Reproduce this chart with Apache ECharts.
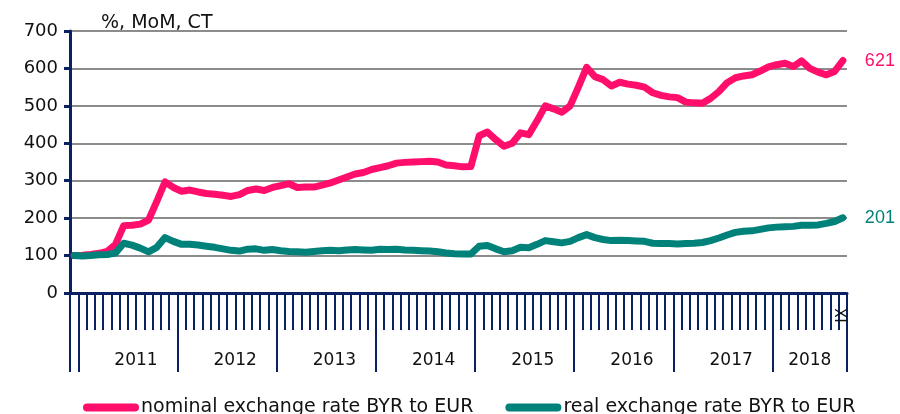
<!DOCTYPE html>
<html>
<head>
<meta charset="utf-8">
<script src="https://cdn.jsdelivr.net/npm/echarts@6/dist/echarts.min.js"></script>
<style>
  html, body { margin: 0; padding: 0; background: #fff; }
  #chart { width: 900px; height: 414px; }
</style>
</head>
<body>
<div id="chart"></div>
<script>
// months: XII 2010 (base = 100) .. IX 2018
const romans = ["I", "II", "III", "IV", "V", "VI", "VII", "VIII", "IX", "X", "XI", "XII"];
const years = ["2011", "2012", "2013", "2014", "2015", "2016", "2017", "2018"];
const lastYearMonths = 9;

const nominal = [
  100,
  101, 103, 106, 111, 130, 180, 181, 184, 195, 245, 297, 282,
  272, 275, 270, 266, 264, 261, 258, 263, 274, 278, 274, 282,
  287, 292, 282, 283, 283, 288, 294, 302, 310, 318, 322, 330,
  335, 340, 347, 349, 350, 351, 352, 350, 342, 340, 337, 338,
  420, 430, 410, 392, 400, 428, 423, 460, 500, 492, 483, 500,
  550, 603, 578, 570, 553, 563, 558, 555, 550, 535, 528, 524,
  522, 510, 508, 507, 520, 538, 562, 575, 580, 583, 593, 604,
  610, 614, 605, 620, 600, 590, 583, 592, 621
];
const real = [
  100,
  99, 100, 102, 103, 107, 133, 128, 120, 110, 122, 148, 138,
  130, 130, 128, 125, 122, 118, 114, 112, 117, 118, 114, 116,
  113, 111, 110, 109, 111, 113, 114, 113, 115, 116, 115, 114,
  117, 116, 117, 115, 114, 113, 112, 110, 107, 105, 104, 104,
  125, 127, 118, 110, 113, 122, 121, 130, 140, 137, 134, 138,
  148, 156, 148, 143, 140, 141, 140, 139, 138, 133, 132, 132,
  131, 132, 133, 135, 140, 147, 155, 162, 165, 166, 170, 174,
  176, 177, 178, 181, 181, 182, 186, 191, 201
];

const categories = ["XII 2010"];
years.forEach((y, k) => {
  const n = k === years.length - 1 ? lastYearMonths : 12;
  for (let m = 0; m < n; m++) categories.push(romans[m] + " " + y);
});

const navy = "#0b1f63";
const pink = "#ff0f6b";
const teal = "#00827a";
const font = "DejaVu Sans";
const last = categories.length - 1;

// year label sits in the middle of its block of months
const yearLabelIndex = {};
years.forEach((y, k) => {
  const start = 1 + k * 12;
  const n = k === years.length - 1 ? lastYearMonths : 12;
  yearLabelIndex[start + Math.floor(n / 2)] = { year: y, even: n % 2 === 0 };
});

const chart = echarts.init(document.getElementById("chart"));
chart.setOption({
  backgroundColor: "#fff",
  animation: false,
  title: {
    text: "%, MoM, CT",
    left: 96,
    top: 9,
    textStyle: { fontFamily: font, fontSize: 19, fontWeight: "normal", color: "#111" },
  },
  legend: {
    left: 78,
    top: 393,
    itemGap: 32,
    itemWidth: 56,
    itemHeight: 8,
    icon: "path://M4,0 H52 A4,4 0 0 1 52,8 H4 A4,4 0 0 1 4,0 Z",
    textStyle: { fontFamily: font, fontSize: 19, color: "#111", padding: [0, 0, 0, -3] },
    data: ["nominal exchange rate BYR to EUR", "real exchange rate BYR to EUR"],
  },
  grid: { left: 70, right: 53, top: 31, bottom: 121 },
  xAxis: [
    {
      type: "category",
      position: "bottom",
      data: categories,
      boundaryGap: true,
      axisLine: { show: true, lineStyle: { color: navy, width: 3 } },
      axisTick: { show: true, interval: 0, length: 37, lineStyle: { color: navy, width: 2 } },
      axisLabel: {
        interval: (i) => i === last,
        formatter: () => romans[lastYearMonths - 1],
        rotate: 90,
        margin: 15,
        fontFamily: font,
        fontSize: 15,
        color: "#111",
      },
      z: 4,
    },
    {
      type: "category",
      position: "bottom",
      offset: 0,
      data: categories,
      boundaryGap: true,
      axisLine: { show: false },
      axisTick: {
        show: true,
        interval: (i) => i === 0 || (i - 1) % 12 === 0,
        length: 79,
        lineStyle: { color: navy, width: 2 },
      },
      axisLabel: {
        show: true,
        interval: (i) => yearLabelIndex[i] !== undefined,
        formatter: (v, i) => {
          const item = yearLabelIndex[i];
          return item.even ? "{e|" + item.year + "}" : "{o|" + item.year + "}";
        },
        margin: 59,
        rich: {
          e: { fontFamily: font, fontSize: 17, color: "#111", padding: [0, 0, 0, 8] },
          o: { fontFamily: font, fontSize: 17, color: "#111" },
        },
        fontFamily: font,
        fontSize: 17,
        color: "#111",
      },
    },
  ],
  yAxis: {
    type: "value",
    min: 0,
    max: 700,
    interval: 100,
    axisLine: { show: true, lineStyle: { color: navy, width: 3 } },
    axisTick: { show: true, length: 6, lineStyle: { color: navy, width: 3 } },
    axisLabel: { fontFamily: font, fontSize: 18, color: "#111", margin: 12 },
    splitLine: { lineStyle: { color: "#8c8c8c", width: 2 } },
  },
  series: [
    {
      name: "nominal exchange rate BYR to EUR",
      type: "line",
      data: nominal,
      symbol: "none",
      color: pink,
      lineStyle: { width: 7, color: pink, cap: "round", join: "round" },
      endLabel: {
        show: true,
        distance: 22,
        fontFamily: "Liberation Sans",
        fontSize: 18,
        color: pink,
      },
      z: 2,
    },
    {
      name: "real exchange rate BYR to EUR",
      type: "line",
      data: real,
      symbol: "none",
      color: teal,
      lineStyle: { width: 7, color: teal, cap: "round", join: "round" },
      endLabel: {
        show: true,
        distance: 22,
        fontFamily: "Liberation Sans",
        fontSize: 18,
        color: teal,
      },
      z: 3,
    },
  ],
});
</script>
</body>
</html>
